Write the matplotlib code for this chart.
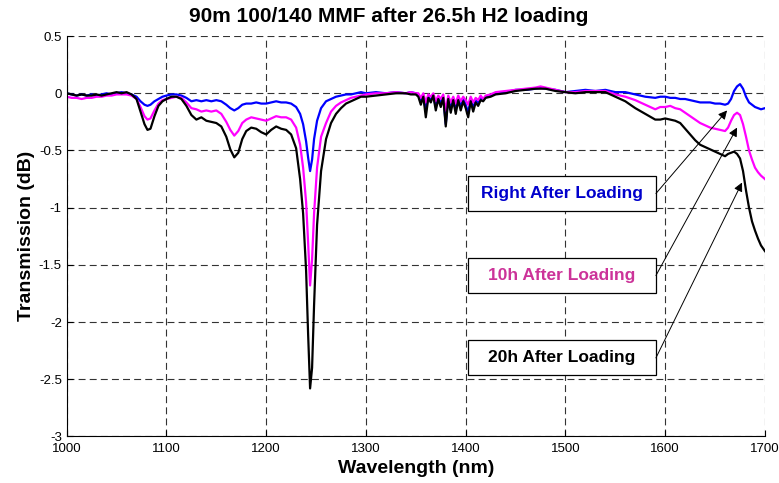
import matplotlib
matplotlib.use("Agg")
import matplotlib.pyplot as plt
from matplotlib.patches import Rectangle

plt.rcParams['lines.scale_dashes'] = False
plt.rcParams['font.family'] = ['Liberation Sans', 'DejaVu Sans']

# Wavelength grid (nm)
wavelength = [
    1000, 1005, 1010, 1015, 1020, 1025, 1030, 1035, 1040, 1045, 1050, 1055, 1060, 1065,
    1070, 1074, 1078, 1081, 1084, 1088, 1092, 1096, 1100, 1105, 1110, 1115, 1120, 1125,
    1130, 1135, 1140, 1145, 1150, 1155, 1160, 1164, 1168, 1172, 1176, 1180, 1185, 1190,
    1195, 1200, 1205, 1210, 1215, 1220, 1225, 1230, 1234, 1237, 1240, 1242, 1244, 1246,
    1248, 1251, 1255, 1260, 1265, 1270, 1275, 1280, 1285, 1290, 1295, 1300, 1310, 1320,
    1330, 1340, 1345,
    1350, 1352.5, 1355, 1357.5, 1360, 1362.5, 1365, 1367.5, 1370, 1372.5, 1375, 1377.5,
    1380, 1382.5, 1385, 1387.5, 1390, 1392.5, 1395, 1397.5, 1400, 1402.5, 1405, 1407.5,
    1410, 1412.5, 1415, 1417.5, 1420,
    1425, 1430, 1440, 1450, 1460, 1470, 1475, 1480, 1490, 1500, 1510, 1520, 1530, 1540,
    1550, 1560, 1570, 1580, 1590, 1595, 1600, 1605, 1610, 1615, 1620, 1625, 1630, 1635,
    1640, 1645, 1650, 1655, 1660, 1663, 1666, 1669, 1672, 1675, 1678, 1681, 1684, 1687,
    1690, 1693, 1696, 1700,
]

# Transmission (dB) right after loading
right_after = [
    0.00, -0.01, -0.02, -0.01, -0.02, -0.01, -0.02, -0.01, 0.00, -0.01, 0.00, 0.01, 0.00, -0.01,
    -0.03, -0.07, -0.10, -0.11, -0.10, -0.07, -0.05, -0.03, -0.02, -0.01, -0.01, -0.02, -0.04, -0.07,
    -0.06, -0.07, -0.06, -0.07, -0.06, -0.07, -0.10, -0.13, -0.15, -0.13, -0.10, -0.09, -0.09, -0.08,
    -0.09, -0.09, -0.08, -0.07, -0.08, -0.08, -0.09, -0.12, -0.18, -0.27, -0.42, -0.56, -0.68, -0.58,
    -0.40, -0.24, -0.13, -0.07, -0.05, -0.03, -0.02, -0.01, -0.01, 0.00, 0.01, 0.00, 0.01, 0.00,
    0.01, 0.00, 0.01,
    0.00, -0.01, -0.08, -0.02, -0.15, -0.03, -0.06, -0.02, -0.12, -0.04, -0.09, -0.03,
    -0.27, -0.04, -0.14, -0.05, -0.15, -0.04, -0.12, -0.05, -0.10, -0.17, -0.05, -0.13,
    -0.06, -0.09, -0.04, -0.06, -0.03,
    -0.02, 0.00, 0.01, 0.03, 0.03, 0.04, 0.05, 0.04, 0.03, 0.01, 0.02, 0.03, 0.02, 0.03,
    0.01, 0.01, -0.01, -0.03, -0.04, -0.03, -0.03, -0.04, -0.04, -0.05, -0.05, -0.06, -0.07, -0.08,
    -0.08, -0.08, -0.09, -0.09, -0.10, -0.09, -0.05, 0.02, 0.06, 0.08, 0.04, -0.03, -0.08, -0.10,
    -0.12, -0.13, -0.14, -0.13,
]

# Transmission (dB) 10h after loading
after_10h = [
    -0.03, -0.04, -0.04, -0.05, -0.04, -0.04, -0.03, -0.03, -0.02, -0.02, -0.01, -0.01, -0.01, -0.02,
    -0.05, -0.12, -0.20, -0.23, -0.22, -0.15, -0.09, -0.06, -0.05, -0.04, -0.03, -0.04, -0.08, -0.13,
    -0.14, -0.16, -0.15, -0.16, -0.15, -0.18, -0.25, -0.32, -0.37, -0.33, -0.26, -0.23, -0.21, -0.22,
    -0.23, -0.24, -0.22, -0.20, -0.21, -0.21, -0.23, -0.30, -0.45, -0.65, -0.95, -1.30, -1.68, -1.45,
    -1.05, -0.65, -0.38, -0.26, -0.16, -0.11, -0.08, -0.06, -0.04, -0.03, -0.02, -0.01, 0.00, 0.00,
    0.01, 0.00, 0.01,
    0.00, 0.00, -0.04, 0.00, -0.08, -0.01, -0.03, 0.00, -0.07, -0.02, -0.05, -0.01,
    -0.15, -0.02, -0.08, -0.03, -0.09, -0.02, -0.07, -0.03, -0.06, -0.10, -0.03, -0.08,
    -0.04, -0.06, -0.02, -0.05, -0.02,
    -0.01, 0.01, 0.02, 0.03, 0.04, 0.05, 0.06, 0.05, 0.03, 0.01, 0.01, 0.02, 0.02, 0.02,
    -0.01, -0.03, -0.06, -0.10, -0.14, -0.12, -0.12, -0.11, -0.13, -0.14, -0.17, -0.20, -0.23, -0.26,
    -0.28, -0.30, -0.31, -0.32, -0.33, -0.30, -0.24, -0.19, -0.17, -0.19, -0.27, -0.38, -0.50, -0.58,
    -0.65, -0.69, -0.72, -0.75,
]

# Transmission (dB) 20h after loading
after_20h = [
    0.00, -0.01, -0.02, -0.01, -0.02, -0.02, -0.01, -0.02, -0.01, 0.00, 0.01, 0.00, 0.01, -0.01,
    -0.05, -0.16, -0.27, -0.32, -0.31, -0.20, -0.11, -0.07, -0.05, -0.03, -0.03, -0.05, -0.11, -0.19,
    -0.23, -0.21, -0.24, -0.25, -0.26, -0.29, -0.38, -0.49, -0.56, -0.52, -0.40, -0.33, -0.30, -0.31,
    -0.34, -0.36, -0.32, -0.29, -0.31, -0.32, -0.36, -0.48, -0.75, -1.05, -1.55, -2.10, -2.58, -2.40,
    -1.85, -1.15, -0.68, -0.40, -0.26, -0.18, -0.13, -0.09, -0.07, -0.05, -0.03, -0.03, -0.02, -0.01,
    0.00, 0.00, -0.01,
    -0.01, -0.03, -0.10, -0.03, -0.21, -0.04, -0.08, -0.02, -0.15, -0.05, -0.12, -0.04,
    -0.29, -0.05, -0.17, -0.06, -0.18, -0.06, -0.15, -0.07, -0.13, -0.21, -0.07, -0.16,
    -0.08, -0.11, -0.06, -0.07, -0.04,
    -0.03, -0.01, 0.00, 0.02, 0.03, 0.04, 0.04, 0.04, 0.02, 0.01, 0.00, 0.01, 0.01, 0.01,
    -0.03, -0.07, -0.13, -0.18, -0.23, -0.23, -0.22, -0.23, -0.24, -0.26, -0.31, -0.36, -0.41, -0.45,
    -0.47, -0.49, -0.51, -0.53, -0.55, -0.53, -0.52, -0.51, -0.53, -0.57, -0.68, -0.85, -1.00, -1.12,
    -1.20, -1.27, -1.33, -1.38,
]

labels = ['Right After Loading', '10h After Loading', '20h After Loading']
label_colors = ['#0000CC', '#CC3399', 'black']
arrow_tips = [(1662, -0.15), (1672, -0.30), (1677, -0.78)]
box_centers = [-0.876, -1.593, -2.313]

fig = plt.figure(figsize=(7.79, 4.83), dpi=100)
ax = fig.add_axes([0.0856, 0.0963, 0.8964, 0.829])

ax.plot(wavelength, right_after, color='#0000FF', lw=1.6)
ax.plot(wavelength, after_10h, color='#FF00FF', lw=1.6)
ax.plot(wavelength, after_20h, color='black', lw=1.6)

ax.set_xlim(1000, 1700)
ax.set_ylim(-3, 0.5)
ax.set_xticks(range(1000, 1701, 100))
ax.set_yticks([-3, -2.5, -2, -1.5, -1, -0.5, 0, 0.5])
ax.set_yticklabels(['-3', '-2.5', '-2', '-1.5', '-1', '-0.5', '0', '0.5'])
ax.tick_params(direction='in', length=4, labelsize=9.5, top=False, right=False)
ax.tick_params(axis='x', pad=5)
ax.grid(True, color='#333333', lw=0.8, ls=(0, (5, 3)))
ax.spines['top'].set_visible(False)
ax.spines['right'].set_visible(False)

fig.text(389 / 779, 1 - 17 / 483, '90m 100/140 MMF after 26.5h H2 loading',
         fontsize=15, fontweight='bold', ha='center', va='center')
ax.set_xlabel('Wavelength (nm)', fontsize=14, fontweight='bold', labelpad=3)
ax.set_ylabel('Transmission (dB)', fontsize=14, fontweight='bold', labelpad=3)

# Labelled boxes with arrows pointing to each curve
box_x0, box_x1 = 1402.2, 1590.7
box_h = 0.306
for text, color, tip, yc in zip(labels, label_colors, arrow_tips, box_centers):
    ax.add_patch(Rectangle((box_x0, yc - box_h / 2), box_x1 - box_x0, box_h,
                           facecolor='white', edgecolor='black', lw=0.9, zorder=5))
    ax.text((box_x0 + box_x1) / 2, yc, text, color=color, fontsize=12.5, fontweight='bold',
            ha='center', va='center', zorder=6)
    ax.annotate('', xy=tip, xytext=(box_x1, yc),
                arrowprops=dict(arrowstyle='-|>', color='black', lw=0.7,
                                mutation_scale=13, shrinkA=0, shrinkB=0), zorder=6)

fig.savefig('out.png', dpi=100)
